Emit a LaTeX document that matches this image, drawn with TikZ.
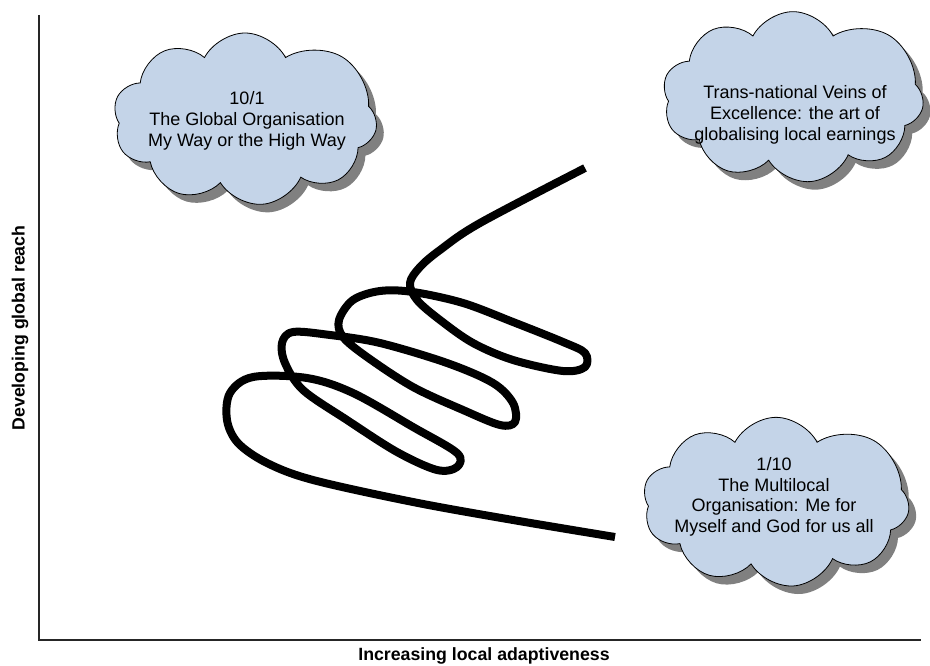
\documentclass[tikz,border=0pt]{standalone}
\usepackage{fontspec}
\setmainfont{Liberation Sans}
\usepackage{xcolor}
\usetikzlibrary{shapes.symbols, shadows, positioning, calc}
\definecolor{cloudblue}{RGB}{196,212,232}
\tikzset{
  puff/.style    = {cloud, cloud puffs=9.6, cloud puff arc=125, cloud ignores aspect,
                    draw, line width=0.6pt, fill=cloudblue,
                    drop shadow={shadow xshift=5.5pt, shadow yshift=-6pt,
                                 fill=black!50, opacity=1}},
  cloudtext/.style = {align=center, inner sep=0pt,
                    font=\fontsize{13.5}{15.5}\selectfont},
  axis/.style    = {line width=1.3pt, black!85},
  axislabel/.style = {font=\fontsize{13.3}{15}\selectfont\bfseries, inner sep=0pt},
  spring/.style  = {line width=6pt, line join=round},
}

\begin{document}
\begin{tikzpicture}[x=0.75pt, y=-0.75pt]
  \useasboundingbox (0,0) rectangle (930,666);

  % axes
  \coordinate (ytop) at (39,15);
  \coordinate (origin) at (39,640);
  \coordinate (xend) at (921,640);
  \draw[axis] (ytop) -- (origin) -- (xend);
  \node[axislabel] (xlab) at (484,656) {Increasing local adaptiveness};
  \node[axislabel, rotate=90] (ylab) at (20,328) {Developing global reach};

  % clouds
  \node[puff, minimum width=198pt, minimum height=129pt] (global) at (245,119) {};
  \node[puff, minimum width=196pt, minimum height=128pt] (veins) at (793,97) {};
  \node[puff, minimum width=200pt, minimum height=127pt] (multi) at (776,502) {};

  \node[cloudtext] (globaltxt) at (247,121) {10/1\\The Global Organisation\\My Way or the High Way};
  \node[cloudtext] (veinstxt) at (795,115) {Trans-national Veins of\\Excellence: the art of\\globalising local earnings};
  \node[cloudtext] (multitxt) at (774,497) {1/10\\The Multilocal\\Organisation: Me for\\Myself and God for us all};

  % the spring
  \draw[spring] plot[smooth, tension=0.55] coordinates {
    (585,168) (480,223) (440,250) (420,267) (410,283) (417,300) (440,320)
    (473,343) (513,360) (563,371) (585,367) (585,353) (563,342) (513,322)
    (463,303) (413,292) (380,291) (353,300) (339,320) (343,337) (367,357)
    (413,387) (463,410) (500,425) (515,422) (513,403) (493,383) (447,363)
    (380,343) (330,335) (293,332) (282,343) (285,363) (303,390) (347,420)
    (397,452) (437,470) (457,467) (457,453) (413,427) (353,393) (307,378)
    (253,377) (230,393) (227,420) (238,443) (267,463) (313,480) (413,502)
    (513,520) (615,537)};
\end{tikzpicture}
\end{document}
